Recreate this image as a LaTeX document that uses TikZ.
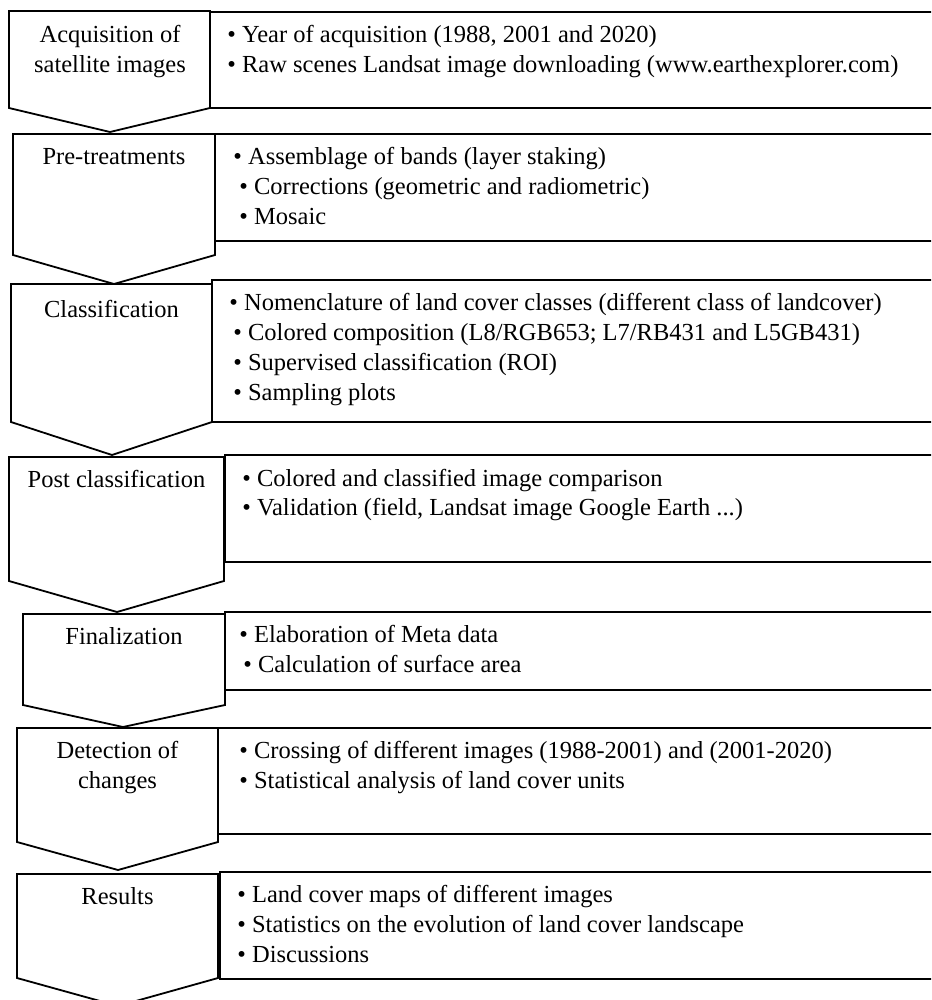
\documentclass[tikz,border=0pt]{standalone}
\usepackage{fontspec}
\setmainfont{Liberation Serif}
\newcommand{\stagefont}{\fontsize{12.25}{15}\selectfont}

\begin{document}
\begin{tikzpicture}[x=0.5pt,y=-0.5pt,
  chev/.style = {draw,line width=0.9pt,line join=miter,fill=white},
  box/.style = {draw,line width=0.9pt},
  lbl/.style = {anchor=base,inner sep=0pt,font=\stagefont},
  item/.style = {anchor=base west,inner sep=0pt,font=\stagefont}]
 \useasboundingbox (0,0) rectangle (931,1000);
 \clip (0,0) rectangle (931,1000);
 % acquisition
 \draw[box] (209,12) rectangle (945,108);
 \draw[chev] (9,11) -- (210,11) -- (210,108) -- (110,132) -- (9,108) -- cycle;
 \node[lbl] (acqa) at (110,43) {Acquisition of};
 \node[lbl] (acqb) at (110,73) {satellite images};
 \node[item] (acq1) at (227,43) {• Year of acquisition (1988, 2001 and 2020)};
 \node[item] (acq2) at (227,73) {• Raw scenes Landsat image downloading (www.earthexplorer.com)};
 % pre-treatments
 \draw[box] (215,134) rectangle (945,241);
 \draw[chev] (13,134) -- (215,134) -- (215,255) -- (114,284) -- (13,255) -- cycle;
 \node[lbl] (pre) at (114,165) {Pre-treatments};
 \node[item] (pre1) at (233,165) {• Assemblage of bands (layer staking)};
 \node[item] (pre2) at (239,195) {• Corrections (geometric and radiometric)};
 \node[item] (pre3) at (239,225) {• Mosaic};
 % classification
 \draw[box] (212,280) rectangle (945,422);
 \draw[chev] (11,284) -- (212,284) -- (212,422) -- (112,455) -- (11,422) -- cycle;
 \node[lbl] (cls) at (111.5,317) {Classification};
 \node[item] (cls1) at (229,310) {• Nomenclature of land cover classes (different class of landcover)};
 \node[item] (cls2) at (233,340) {• Colored composition (L8/RGB653; L7/RB431 and L5GB431)};
 \node[item] (cls3) at (233,370) {• Supervised classification (ROI)};
 \node[item] (cls4) at (233,400) {• Sampling plots};
 % post classification
 \draw[box] (225,455) rectangle (945,562);
 \draw[chev] (9,457) -- (224,457) -- (224,581) -- (117,612) -- (9,581) -- cycle;
 \node[lbl] (post) at (116.5,487) {Post classification};
 \node[item] (post1) at (242,486) {• Colored and classified image comparison};
 \node[item] (post2) at (242,515) {• Validation (field, Landsat image Google Earth ...)};
 % finalization
 \draw[box] (225,612) rectangle (945,690);
 \draw[chev] (23,614) -- (225,614) -- (225,705) -- (123,727) -- (23,705) -- cycle;
 \node[lbl] (fin) at (124,644) {Finalization};
 \node[item] (fin1) at (239,642) {• Elaboration of Meta data};
 \node[item] (fin2) at (243,672) {• Calculation of surface area};
 % detection
 \draw[box] (218,728) rectangle (945,834);
 \draw[chev] (17,728) -- (218,728) -- (218,842) -- (118,870) -- (17,842) -- cycle;
 \node[lbl] (deta) at (117.5,758) {Detection of};
 \node[lbl] (detb) at (117.5,788) {changes};
 \node[item] (det1) at (239,758) {• Crossing of different images (1988-2001) and (2001-2020)};
 \node[item] (det2) at (239,788) {• Statistical analysis of land cover units};
 % results
 \draw[box] (220,872) rectangle (945,979);
 \draw[chev] (17,874) -- (218,874) -- (218,978) -- (118,1006) -- (17,978) -- cycle;
 \node[lbl] (res) at (117.5,904) {Results};
 \node[item] (res1) at (237,902) {• Land cover maps of different images};
 \node[item] (res2) at (237,932) {• Statistics on the evolution of land cover landscape};
 \node[item] (res3) at (237,962) {• Discussions};
\end{tikzpicture}
\end{document}
